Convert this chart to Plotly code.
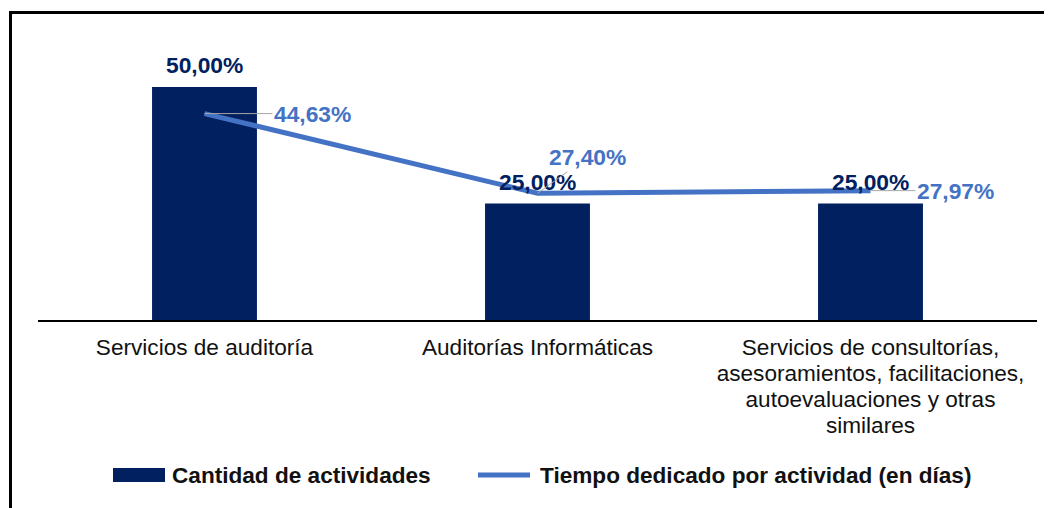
import plotly.graph_objects as go

categories = [
    "Servicios de auditoría",
    "Auditorías Informáticas",
    "Servicios de consultorías,<br>asesoramientos, facilitaciones,<br>autoevaluaciones y otras<br>similares",
]
cantidad = [50.00, 25.00, 25.00]
tiempo = [44.63, 27.40, 27.97]
bar_name = "Cantidad de actividades"
line_name = "Tiempo dedicado por actividad (en días)"

def fmt(v):
    return f"{v:.2f}".replace(".", ",") + "%"

NAVY = "#002060"
BLUE = "#4472C4"
TEXT = "#111111"
FONT = "Liberation Sans, Arial, sans-serif"
FS = 22.6
FSB = 22.8

# page has an 8px body margin; layout sized for the remaining area
OFF = 8
W, H = 1052 - OFF, 508 - OFF
ML, MR, MT, MB = 38 - OFF, 15, 64 - OFF, 188
PW = W - ML - MR
PH = H - MT - MB

def px(x):  # x in screenshot pixels -> paper
    return (x - OFF - ML) / PW

def py(y):  # y in screenshot pixels -> paper
    return (H - MB - (y - OFF)) / PH

def tick_text(label):
    lines = label.split("<br>")
    return "<br>".join(f'<span style="font-size:{FS}px">{ln}</span>' for ln in lines)

fig = go.Figure()
fig.add_trace(go.Bar(
    x=categories, y=cantidad, name=bar_name,
    marker=dict(color=NAVY, line=dict(width=0)),
    showlegend=False, hoverinfo="skip",
))
fig.add_trace(go.Scatter(
    x=categories, y=tiempo, name=line_name, yaxis="y2",
    mode="lines", line=dict(color=BLUE, width=5),
    showlegend=False, hoverinfo="skip",
))

annotations = []
for c, v in zip(categories, cantidad):
    annotations.append(dict(
        x=c, y=v, xref="x", yref="y", text=f"<b>{fmt(v)}</b>",
        showarrow=False, yanchor="middle", yshift=22,
        font=dict(family=FONT, size=FSB, color=NAVY),
    ))
offsets = [(108, 0), (50, -36), (85, 0)]
for c, v, (ax, ay) in zip(categories, tiempo, offsets):
    annotations.append(dict(
        x=c, y=v, xref="x", yref="y2", text=f"<b>{fmt(v)}</b>",
        showarrow=True, arrowhead=0, arrowwidth=1, arrowcolor="#A6A6A6",
        ax=ax, ay=ay, standoff=0,
        font=dict(family=FONT, size=FSB, color=BLUE),
    ))

# manual legend
annotations.append(dict(
    x=px(170), y=py(475), xref="paper", yref="paper", text=f"<b>{bar_name}</b>",
    showarrow=False, xanchor="left", yanchor="middle",
    font=dict(family=FONT, size=FS, color=TEXT),
))
annotations.append(dict(
    x=px(538), y=py(475), xref="paper", yref="paper", text=f"<b>{line_name}</b>",
    showarrow=False, xanchor="left", yanchor="middle",
    font=dict(family=FONT, size=FS, color=TEXT),
))

shapes = [
    dict(type="rect", xref="paper", yref="paper",
         x0=px(113), x1=px(165), y0=py(482), y1=py(468),
         fillcolor=NAVY, line=dict(width=0)),
    dict(type="line", xref="paper", yref="paper",
         x0=px(478), x1=px(530), y0=py(475), y1=py(475),
         line=dict(color=BLUE, width=5)),
    dict(type="rect", xref="paper", yref="paper",
         x0=px(10.5), x1=px(1070), y0=py(530), y1=py(12.5),
         line=dict(color="black", width=3), fillcolor="rgba(0,0,0,0)"),
]

fig.update_layout(
    width=W, height=H,
    margin=dict(l=ML, r=MR, t=MT, b=MB),
    paper_bgcolor="white", plot_bgcolor="white",
    bargap=0.685,
    showlegend=False,
    font=dict(family=FONT, size=FS, color=TEXT),
    xaxis=dict(
        showline=True, linecolor="black", linewidth=2,
        showgrid=False, zeroline=False, ticks="",
        ticklabelstandoff=9,
        tickmode="array", tickvals=categories,
        ticktext=[tick_text(c) for c in categories],
        tickfont=dict(family=FONT, size=20, color=TEXT),
    ),
    yaxis=dict(range=[0, PH / 4.66], visible=False, showgrid=False, zeroline=False),
    yaxis2=dict(range=[0, PH / 4.625], visible=False, overlaying="y",
                showgrid=False, zeroline=False),
    annotations=annotations,
    shapes=shapes,
)

fig.write_html("out.html")
